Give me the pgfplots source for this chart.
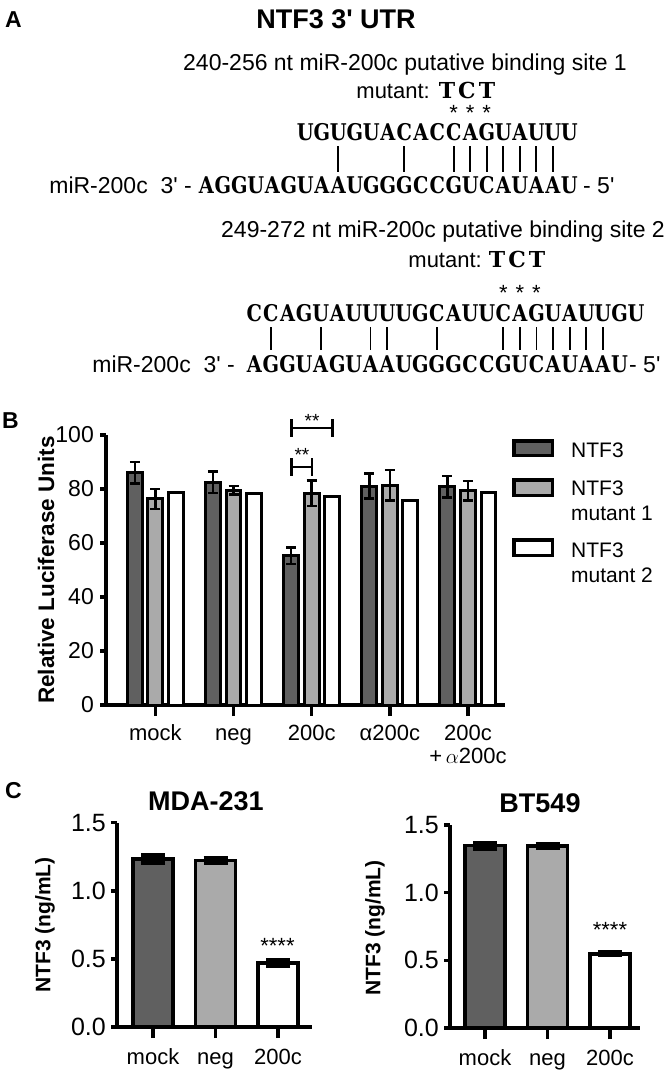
\documentclass[border=0pt]{standalone}
\usepackage{fontspec}
\setmainfont{Liberation Sans}
\newfontfamily\seqfont{DejaVu Serif}
\usepackage{graphicx}
\usepackage{pgfplots}
\pgfplotsset{compat=1.18}
\definecolor{dk}{HTML}{606060}
\definecolor{lt}{HTML}{AAAAAA}
\newcommand\fs[2]{\fontsize{#1pt}{#2pt}\selectfont}
\newcommand\sq[1]{\scalebox{0.84}[1]{#1}}
\begin{document}
\begin{tikzpicture}
\path[use as bounding box] (0pt,0pt) rectangle (672pt,-1074pt);
\pgfplotsset{
  myax/.style={scale only axis, clip=false,
    axis x line=bottom, axis y line=left,
    axis line style={-, line width=3.5pt, black},
    tick style={line width=3.5pt, black},
    tick align=outside, major tick length=6pt,
    xtick style={/pgfplots/major tick length=11pt},
    /pgf/number format/assume math mode=true,
    enlargelimits=false},
  bstyle/.style={ybar, draw=black, line width=3pt, bar width=0.19, bar shift=0,
    /pgfplots/error bars/y dir=both, /pgfplots/error bars/y explicit,
    /pgfplots/error bars/error bar style={line width=2.5pt, black},
    /pgfplots/error bars/error mark options={rotate=90, line width=2.5pt, mark size=5pt, black}},
  cstyle/.style={ybar, draw=black, line width=3.5pt, bar width=0.64, bar shift=0,
    /pgfplots/error bars/y dir=both, /pgfplots/error bars/y explicit,
    /pgfplots/error bars/error bar style={line width=3.5pt, black},
    /pgfplots/error bars/error mark options={rotate=90, line width=3.5pt, mark size=12pt, black}}
}
% ---------------- Panel B ----------------
\begin{axis}[myax, at={(106pt,-705pt)}, width=399pt, height=270pt,
  xmin=-0.632, xmax=4.474, ymin=0, ymax=100,
  xtick={0,1,2,3,4},
  xticklabels={mock,neg,200c,α200c,200c},
  ytick={0,20,40,60,80,100},
  xticklabel style={font=\fs{22}{25}, anchor=base, inner sep=0pt, yshift=-29pt},
  yticklabel style={font=\fs{23}{25}, inner sep=0pt, xshift=-6pt}]
\addplot[bstyle, fill=dk]
  coordinates {(-0.263,86) +- (0,4) (0.737,82.5) +- (0,4) (1.737,55.3) +- (0,3) (2.737,81.1) +- (0,4.6) (3.737,80.9) +- (0,4)};
\addplot[bstyle, fill=lt]
  coordinates {(0,76.3) +- (0,3.7) (1,79.6) +- (0,1.6) (2,78.4) +- (0,4.7) (3,81.4) +- (0,5.7) (4,79.4) +- (0,3.6)};
\addplot[ybar, draw=black, line width=3pt, fill=white, bar width=0.19, bar shift=0]
  coordinates {(0.263,78.8) (1.263,78.4) (2.263,77.2) (3.263,75.6) (4.263,78.6)};
\end{axis}
% ---------------- Panel C left ----------------
\begin{axis}[myax, at={(117pt,-1027pt)}, width=195pt, height=204.3pt,
  xmin=-0.576, xmax=2.544, ymin=0, ymax=1.5,
  xtick={0,1,2}, xticklabels={mock,neg,200c},
  ytick={0,0.5,1,1.5},
  xticklabel style={font=\fs{22}{25}, anchor=base, inner sep=0pt, yshift=-31pt},
  yticklabel style={font=\fs{25}{27}, inner sep=0pt, xshift=-5pt,
    /pgf/number format/.cd, fixed, fixed zerofill, precision=1}]
\addplot[cstyle, fill=dk] coordinates {(0,1.234) +- (0,0.03)};
\addplot[cstyle, fill=lt] coordinates {(1,1.222) +- (0,0.02)};
\addplot[cstyle, fill=white] coordinates {(2,0.469) +- (0,0.025)};
\end{axis}
% ---------------- Panel C right ----------------
\begin{axis}[myax, at={(450pt,-1028pt)}, width=190pt, height=203pt,
  xmin=-0.56, xmax=2.48, ymin=0, ymax=1.5,
  xtick={0,1,2}, xticklabels={mock,neg,200c},
  ytick={0,0.5,1,1.5},
  xticklabel style={font=\fs{22}{25}, anchor=base, inner sep=0pt, yshift=-31pt},
  yticklabel style={font=\fs{25}{27}, inner sep=0pt, xshift=-5pt,
    /pgf/number format/.cd, fixed, fixed zerofill, precision=1}]
\addplot[cstyle, fill=dk] coordinates {(0,1.347) +- (0,0.025)};
\addplot[cstyle, fill=lt] coordinates {(1,1.345) +- (0,0.02)};
\addplot[cstyle, fill=white] coordinates {(2,0.548) +- (0,0.012)};
\end{axis}
% ---------------- annotations in pixel coordinates ----------------
\begin{scope}[x=1pt,y=-1pt]
\tikzset{lab/.style={inner sep=0pt, anchor=base}}
% Panel A
\node[lab, anchor=base west, font=\bfseries\fs{23}{25}] at (5,27) {A};
\node[lab, font=\bfseries\fs{27}{29}] at (336,28) {NTF3 3\textquotesingle{} UTR};
% site 1
\node[lab, anchor=base west, font=\fs{23}{25}] at (183,70) {240-256 nt miR-200c putative binding site 1};
\node[lab, anchor=base east, font=\fs{22}{25}] at (430,98) {mutant:};
\foreach \c/\x in {T/447,C/467,T/487}
  \node[lab, font=\seqfont\bfseries\fs{22}{24}] at (\x,98) {\c};
\foreach \x in {453.75,470.25,486.75}
  \node[lab, font=\fs{22}{25}] at (\x,120) {*};
\foreach \c [count=\i from 0] in {U,G,U,G,U,A,C,A,C,C,A,G,U,A,U,U,U}
  \node[lab, font=\seqfont\bfseries\fs{23}{25}] at ({297+16.5*(\i+0.5)},140) {\sq{\c}};
\foreach \t in {2,6,9,10,11,12,13,14,15}
  \draw[line width=1.8pt] ({297+16.5*(\t+0.5)},146) -- ++(0,26);
\node[lab, anchor=base east, font=\fs{23}{25}] at (192,193) {miR-200c\ \ 3\textquotesingle\ -};
\foreach \c [count=\i from 0] in {A,G,G,U,A,G,U,A,A,U,G,G,G,C,C,G,U,C,A,U,A,A,U}
  \node[lab, font=\seqfont\bfseries\fs{23}{25}] at ({198+16.5*(\i+0.5)},193) {\sq{\c}};
\node[lab, anchor=base west, font=\fs{23}{25}] at (583,193) {- 5\textquotesingle};
% site 2
\node[lab, anchor=base west, font=\fs{23}{25}] at (221,237) {249-272 nt miR-200c putative binding site 2};
\node[lab, anchor=base east, font=\fs{22}{25}] at (482,267) {mutant:};
\foreach \c/\x in {T/497,C/517,T/537}
  \node[lab, font=\seqfont\bfseries\fs{22}{24}] at (\x,267) {\c};
\foreach \t in {15,16,17}
  \node[lab, font=\fs{22}{25}] at ({246+16.6*(\t+0.5)},300) {*};
\foreach \c [count=\i from 0] in {C,C,A,G,U,A,U,U,U,U,G,C,A,U,U,C,A,G,U,A,U,U,G,U}
  \node[lab, font=\seqfont\bfseries\fs{23}{25}] at ({246+16.6*(\i+0.5)},321) {\sq{\c}};
\foreach \t in {1,4,7,8,11,15,16,17,18,19,20,21}
  \draw[line width=1.8pt] ({246+16.6*(\t+0.5)},327) -- ++(0,23);
\node[lab, anchor=base east, font=\fs{23}{25}] at (235,372) {miR-200c\ \ 3\textquotesingle\ -};
\foreach \c [count=\i from 0] in {A,G,G,U,A,G,U,A,A,U,G,G,G,C,C,G,U,C,A,U,A,A,U}
  \node[lab, font=\seqfont\bfseries\fs{23}{25}] at ({246+16.6*(\i+0.5)},372) {\sq{\c}};
\node[lab, anchor=base west, font=\fs{23}{25}] at (629,372) {- 5\textquotesingle};
% Panel B labels
\node[lab, anchor=base west, font=\bfseries\fs{23}{25}] at (2,428) {B};
\node[inner sep=0pt, rotate=90, font=\bfseries\fs{22.5}{25}] at (46,570) {Relative Luciferase Units};
\node[lab, font=\fs{22}{25}] at (468,763) {+\,$\alpha$200c};
\draw[line width=2.5pt] (291.5,419)--(291.5,437) (291.5,428)--(332.5,428) (332.5,419)--(332.5,437);
\draw[line width=2.5pt] (291.5,458)--(291.5,476) (291.5,467)--(312,467) (312,458)--(312,476);
\node[lab, font=\fs{19}{21}] at (312,427) {**};
\node[lab, font=\fs{19}{21}] at (302,461) {**};
% legend
\draw[line width=3.5pt, fill=dk] (513.75,440.75) rectangle (552.25,455.25);
\draw[line width=3.5pt, fill=lt] (513.75,479.75) rectangle (552.25,495.25);
\draw[line width=3.5pt, fill=white] (513.75,539.75) rectangle (552.25,555.25);
\node[lab, anchor=base west, font=\fs{21}{23}] at (571,457) {NTF3};
\node[lab, anchor=base west, font=\fs{21}{23}] at (571,495) {NTF3};
\node[lab, anchor=base west, font=\fs{21}{23}] at (571,520) {mutant 1};
\node[lab, anchor=base west, font=\fs{21}{23}] at (571,557) {NTF3};
\node[lab, anchor=base west, font=\fs{21}{23}] at (571,582) {mutant 2};
% Panel C labels
\node[lab, anchor=base west, font=\bfseries\fs{23}{25}] at (5,798) {C};
\node[lab, font=\bfseries\fs{27}{29}] at (206,810) {MDA-231};
\node[lab, font=\bfseries\fs{27}{29}] at (540,812) {BT549};
\node[inner sep=0pt, rotate=90, font=\bfseries\fs{21}{23}] at (45,925) {NTF3 (ng/mL)};
\node[inner sep=0pt, rotate=90, font=\bfseries\fs{21}{23}] at (375,928) {NTF3 (ng/mL)};
\node[lab, font=\fs{22}{25}] at (277.5,953) {****};
\node[lab, font=\fs{22}{25}] at (610,937) {****};
\end{scope}
\end{tikzpicture}
\end{document}
